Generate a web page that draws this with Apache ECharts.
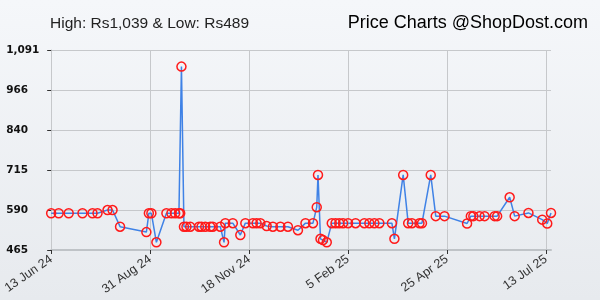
<!DOCTYPE html>
<html>
<head>
<meta charset="utf-8">
<script src="https://cdn.jsdelivr.net/npm/echarts@6/dist/echarts.min.js"></script>
<style>
html,body{margin:0;padding:0;}
#chart{width:600px;height:300px;}
</style>
</head>
<body>
<div id="chart"></div>
<script>
const startDate = '2024-06-13';
const dates = [
'2024-06-13','2024-06-19','2024-06-27','2024-07-08','2024-07-16','2024-07-20','2024-07-28','2024-08-01',
'2024-08-07','2024-08-28','2024-08-30','2024-09-01','2024-09-05','2024-09-13','2024-09-17','2024-09-20',
'2024-09-23','2024-09-24','2024-09-25','2024-09-27','2024-09-29','2024-10-02','2024-10-09','2024-10-11',
'2024-10-14','2024-10-18','2024-10-20','2024-10-26','2024-10-29','2024-10-30','2024-11-05','2024-11-11',
'2024-11-15','2024-11-21','2024-11-24','2024-11-27','2024-12-02','2024-12-07','2024-12-13','2024-12-19',
'2024-12-27','2025-01-02','2025-01-08','2025-01-11','2025-01-12','2025-01-14','2025-01-16','2025-01-19',
'2025-01-23','2025-01-26','2025-01-29','2025-02-01','2025-02-05','2025-02-11','2025-02-18','2025-02-22',
'2025-02-26','2025-03-02','2025-03-12','2025-03-14','2025-03-21','2025-03-25','2025-03-28','2025-04-03',
'2025-04-05','2025-04-12','2025-04-16','2025-04-23','2025-05-11','2025-05-14','2025-05-16','2025-05-21',
'2025-05-25','2025-06-02','2025-06-04','2025-06-14','2025-06-18','2025-06-29','2025-07-10','2025-07-14',
'2025-07-17'
];
const prices = [
580,580,580,580,580,580,590,590,
538,521,580,580,489,580,580,580,
580,580,1039,538,538,538,538,538,
538,538,538,538,489,549,549,512,
549,549,549,549,540,538,538,538,
527,549,549,599,700,500,496,489,
549,549,549,549,549,549,549,549,
549,549,549,500,700,549,549,549,
549,700,571,571,548,571,571,571,
571,571,571,630,571,581,560,548,
581
];
const xTickLabels = ['13 Jun 24','31 Aug 24','18 Nov 24','5 Feb 25','25 Apr 25','13 Jul 25'];
const yTickValues = [465, 590, 715, 840, 966, 1091];
const highText = 'High: Rs1,039 & Low: Rs489';
const brandText = 'Price Charts @ShopDost.com';

const DAY = 86400000;
function toUTC(s){const p=s.split('-').map(Number);return Date.UTC(p[0],p[1]-1,p[2]);}
const t0 = toUTC(startDate);
const dayOffsets = dates.map(d => Math.round((toUTC(d)-t0)/DAY));
const xTickValues = [0,79,158,237,316,395];
const seriesData = dayOffsets.map((d,i)=>[d, prices[i]]);

const chart = echarts.init(document.getElementById('chart'), null, {renderer:'canvas'});
chart.setOption({
  backgroundColor: new echarts.graphic.LinearGradient(0,0,0,1,[{offset:0,color:'#f5f7fa'},{offset:1,color:'#e7eaee'}]),
  animation: false,
  title: [
    {text: highText, left: 45, top: 11, textStyle:{fontFamily:'Liberation Sans, Arial', fontSize:15.5, fontWeight:'normal', color:'#222'}},
    {text: brandText, right: 7, top: 9, textStyle:{fontFamily:'Liberation Sans, Arial', fontSize:18, fontWeight:'normal', color:'#000'}}
  ],
  grid: {left:50, right:49, top:50, bottom:50, containLabel:false},
  xAxis: {
    type:'value', min:0, max:399,
    axisLine:{show:true, lineStyle:{color:'#bfc3c7', width:2}},
    axisTick:{show:true, length:4, customValues:xTickValues, lineStyle:{color:'#333', width:1}},
    splitLine:{show:true, lineStyle:{color:'#c6c8cb', width:1}},
    axisLabel:{
      customValues:xTickValues, rotate:35, margin:8,
      fontFamily:'Liberation Sans, Arial', fontSize:12.5, color:'#333',
      formatter:(v)=>xTickLabels[xTickValues.indexOf(Math.round(v))] || ''
    }
  },
  yAxis: {
    type:'value', min:465, max:1091,
    axisLine:{show:true, lineStyle:{color:'#c6c8cb', width:1}},
    axisTick:{show:true, length:4, customValues:yTickValues, lineStyle:{color:'#333', width:1}},
    splitLine:{show:true, lineStyle:{color:'#c6c8cb', width:1}},
    axisLabel:{
      customValues:yTickValues, align:'left', margin:45,
      fontFamily:'DejaVu Sans', fontWeight:'bold', fontSize:10.5, color:'#111',
      formatter:(v)=>Math.round(v).toLocaleString('en-US')
    }
  },
  series: [{
    type:'line', data:seriesData,
    symbol:'circle', symbolSize:9,
    lineStyle:{color:'#3f82e6', width:1.5},
    itemStyle:{color:'rgba(0,0,0,0)', borderColor:'#ff1a1a', borderWidth:1.5},
    z:3
  }]
});
</script>
</body>
</html>
